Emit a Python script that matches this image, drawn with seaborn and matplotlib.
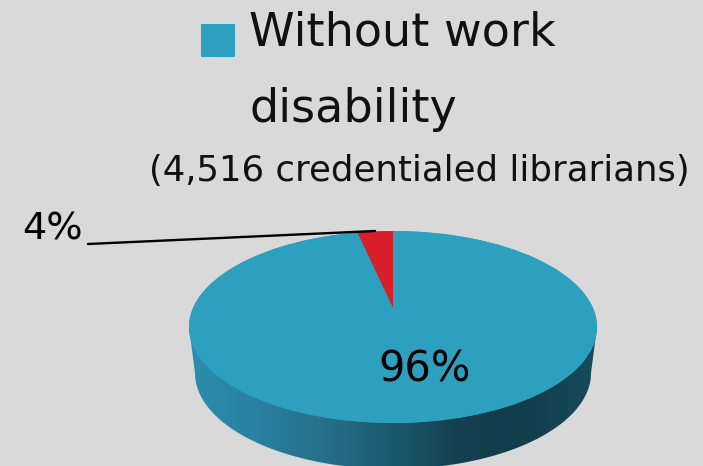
import matplotlib
matplotlib.use("Agg")
import matplotlib.pyplot as plt
import numpy as np
import seaborn as sns
from matplotlib.patches import Ellipse, Polygon, Rectangle

# values
labels = ["Without work disability", "With work disability"]
shares = [96, 4]
share_labels = ["96%", "4%"]
legend_lines = ["Without work", "disability"]
subtitle = "(4,516 credentialed librarians)"

BG = "#d9d9d9"
BLUE = "#2ea0bf"
RED = "#d81f2a"

sns.set_theme(style="white", rc={"figure.facecolor": BG, "axes.facecolor": BG})
plt.rcParams["font.family"] = ["DejaVu Sans"]

fig = plt.figure(figsize=(7.03, 4.66), dpi=100)

# background axes in pixels, for the pie's side
base = fig.add_axes([0, 0, 1, 1])
base.axis("off")

cx, cy, rx, ry, depth = 393, 327, 204, 96, 46

# side of the disc with a left to right shade
side_cmap = sns.blend_palette(
    ["#2b8eab", "#2a80a0", "#26708a", "#1b5a6e", "#133f4e", "#123d4b", "#174c5c"],
    as_cmap=True,
)
shade = base.imshow(
    np.linspace(0, 1, 256)[None, :],
    cmap=side_cmap,
    extent=(cx - rx, cx + rx, cy + ry + depth, cy),
    aspect="auto",
    zorder=1,
)
t = np.linspace(0, np.pi, 200)
outline = np.column_stack([cx + (rx - 6) * np.cos(t), cy + depth + ry * np.sin(t)])
outline = np.vstack([[cx + rx, cy], outline, [cx - rx, cy]])
side = Polygon(outline, closed=True, transform=base.transData, fc="none", ec="none")
base.add_patch(side)
shade.set_clip_path(side)
base.set_xlim(0, 703)
base.set_ylim(466, 0)

# top of the disc: pie in its own axes, squashed to the ellipse box
pie_ax = fig.add_axes(
    [(cx - rx) / 703, 1 - (cy + ry) / 466, 2 * rx / 703, 2 * ry / 466], zorder=2
)
pie_ax.patch.set_alpha(0)
disc = Ellipse((0, 0), 2, 2, fc=BLUE, ec="none", zorder=0)
pie_ax.add_patch(disc)
slice_angle = shares[1] * 3.6 * 0.87
wedges, _ = pie_ax.pie(
    shares,
    colors=[BLUE, RED],
    startangle=90 + slice_angle,
    radius=1,
    wedgeprops={"linewidth": 0},
)
pie_ax.set_aspect("auto")
pie_ax.set_xlim(-1, 1)
pie_ax.set_ylim(-1, 1)
pie_ax.axis("off")

# the red slice's tip sits above the middle of the disc
red = wedges[1]
red.set_center((0, 0.2))
red.set_radius(1.3)
red.set_theta1(90)
red.set_theta2(90 + slice_angle)
red.set_zorder(2)
red.set_clip_on(True)
red.set_clip_path(disc)

# texts drawn above everything
top = fig.add_axes([0, 0, 1, 1], zorder=3)
top.set_xlim(0, 703)
top.set_ylim(466, 0)
top.patch.set_alpha(0)
top.axis("off")

top.add_patch(Rectangle((201, 24), 34, 33, fc=BLUE, ec="none"))
top.text(249, 33, legend_lines[0], fontsize=33.2, color="#111111", va="center", ha="left")
top.text(249, 110, legend_lines[1], fontsize=33.2, color="#111111", va="center", ha="left")
top.text(149, 171, subtitle, fontsize=25.6, color="#111111", va="center", ha="left")

top.plot([88, 375], [244, 231], color="black", lw=1.7)
top.text(22, 230, share_labels[1], fontsize=27.5, color="black", va="center", ha="left")
top.text(425, 369, share_labels[0], fontsize=30, color="black", va="center", ha="center")

fig.savefig("out.png", dpi=100, facecolor=BG)
